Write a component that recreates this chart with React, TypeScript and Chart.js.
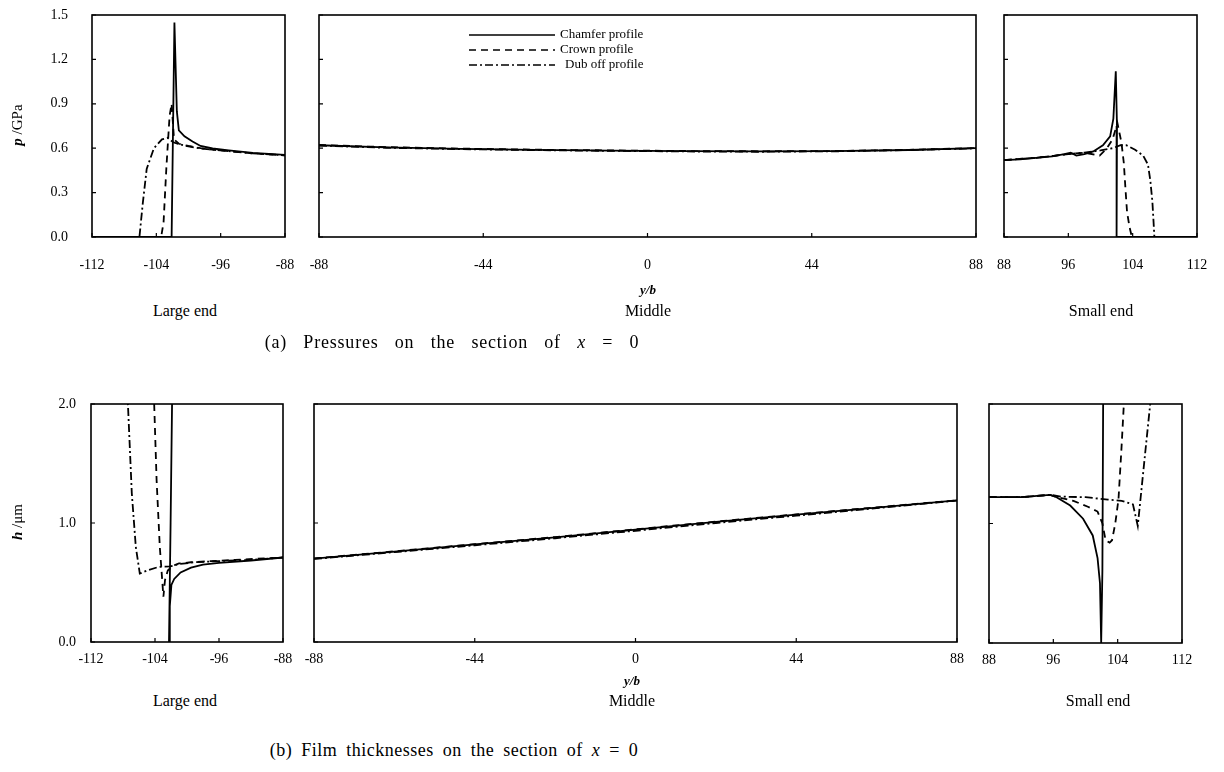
import React, { useEffect, useRef } from "react";
import { Chart, registerables } from "chart.js";

Chart.register(...registerables);

// ---------------- data ----------------
const seriesLabels = ["Chamfer profile", "Crown profile", "Dub off profile"];

const pTicks = [0, 0.3, 0.6, 0.9, 1.2, 1.5];
const hTicks = [0, 1, 2];
const largeEndTicks = [-112, -104, -96, -88];
const middleTicks = [-88, -44, 0, 44, 88];
const smallEndTicks = [88, 96, 104, 112];

// (a) pressure, large end
const pLargeChamfer: [number, number][] = [[-112, 0], [-102.1, 0], [-101.75, 1.45], [-101.45, 0.85], [-101.2, 0.72], [-100.5, 0.68], [-99.5, 0.645], [-98.5, 0.615], [-97, 0.598], [-95, 0.585], [-92, 0.568], [-88, 0.555]];
const pLargeCrown: [number, number][] = [[-112, 0], [-103.4, 0], [-103.1, 0.1], [-102.75, 0.47], [-102.35, 0.82], [-102.1, 0.9], [-101.8, 0.66], [-101.2, 0.63], [-100, 0.615], [-98.5, 0.6], [-97, 0.59], [-95, 0.58], [-92, 0.565], [-88, 0.552]];
const pLargeDub: [number, number][] = [[-112, 0], [-106.1, 0], [-105.7, 0.22], [-105.2, 0.46], [-104.3, 0.6], [-103.3, 0.66], [-102.6, 0.67], [-101.9, 0.64], [-101, 0.625], [-100, 0.612], [-98.5, 0.598], [-97, 0.59], [-95, 0.58], [-92, 0.565], [-88, 0.552]];

// (a) pressure, middle
const pMidChamfer: [number, number][] = [[-88, 0.62], [-70, 0.605], [-50, 0.596], [-30, 0.589], [-10, 0.584], [10, 0.58], [30, 0.578], [50, 0.58], [70, 0.588], [88, 0.6]];
const pMidCrown: [number, number][] = [[-88, 0.622], [-70, 0.607], [-50, 0.597], [-30, 0.59], [-10, 0.585], [10, 0.581], [30, 0.579], [50, 0.581], [70, 0.589], [88, 0.601]];
const pMidDub: [number, number][] = [[-88, 0.618], [-70, 0.603], [-50, 0.594], [-30, 0.587], [-10, 0.582], [10, 0.578], [30, 0.576], [50, 0.579], [70, 0.587], [88, 0.599]];

// (a) pressure, small end
const pSmallChamfer: [number, number][] = [[88, 0.52], [90, 0.525], [92, 0.535], [94, 0.545], [95.5, 0.56], [96.3, 0.57], [97, 0.55], [98, 0.56], [99.1, 0.578], [100.3, 0.62], [101.2, 0.68], [101.6, 0.8], [101.9, 1.12], [102.05, 0.75], [102.0, 0.3], [102.0, 0], [112, 0]];
const pSmallCrown: [number, number][] = [[88, 0.52], [92, 0.535], [96, 0.56], [98, 0.57], [99.9, 0.55], [100.8, 0.6], [101.5, 0.66], [102.1, 0.77], [102.6, 0.64], [102.9, 0.5], [103.1, 0.33], [103.3, 0.17], [103.6, 0.07], [103.9, 0], [112, 0]];
const pSmallDub: [number, number][] = [[88, 0.52], [92, 0.535], [96, 0.56], [98, 0.57], [100, 0.585], [101.5, 0.6], [102.5, 0.62], [103.2, 0.62], [104.3, 0.59], [105.3, 0.55], [105.9, 0.49], [106.2, 0.38], [106.45, 0.24], [106.6, 0.1], [106.7, 0], [112, 0]];

// (b) film thickness, large end
const hLargeChamfer: [number, number][] = [[-101.85, 2.1], [-102.05, 1.0], [-102.25, 0.0], [-102.15, 0.3], [-101.95, 0.48], [-101.6, 0.53], [-100.8, 0.585], [-99.5, 0.625], [-98, 0.65], [-96, 0.665], [-92, 0.685], [-88, 0.71]];
const hLargeCrown: [number, number][] = [[-104.15, 2.1], [-103.8, 1.36], [-103.4, 0.8], [-103.1, 0.52], [-102.95, 0.38], [-102.75, 0.52], [-102.4, 0.6], [-101.8, 0.64], [-101, 0.66], [-99.5, 0.67], [-97, 0.68], [-94, 0.69], [-88, 0.71]];
const hLargeDub: [number, number][] = [[-107.45, 2.1], [-106.9, 1.25], [-106.4, 0.8], [-105.9, 0.575], [-105, 0.6], [-103.6, 0.63], [-102.1, 0.635], [-101, 0.655], [-99, 0.67], [-96, 0.68], [-92, 0.69], [-88, 0.71]];

// (b) film thickness, middle
const hMidChamfer: [number, number][] = [[-88, 0.7], [-66, 0.76], [-44, 0.82], [-22, 0.88], [0, 0.945], [22, 1.01], [44, 1.07], [66, 1.13], [88, 1.19]];
const hMidCrown: [number, number][] = [[-88, 0.702], [-66, 0.762], [-44, 0.822], [-22, 0.882], [0, 0.947], [22, 1.012], [44, 1.072], [66, 1.132], [88, 1.19]];
const hMidDub: [number, number][] = [[-88, 0.698], [-66, 0.755], [-44, 0.813], [-22, 0.872], [0, 0.935], [22, 1.0], [44, 1.062], [66, 1.125], [88, 1.188]];

// (b) film thickness, small end
const hSmallChamfer: [number, number][] = [[88, 1.22], [92, 1.22], [95.6, 1.24], [96.4, 1.22], [98.1, 1.15], [99.7, 1.04], [100.9, 0.9], [101.5, 0.71], [101.8, 0.5], [101.95, 0], [102.1, 0.6], [102.2, 2.1]];
const hSmallCrown: [number, number][] = [[88, 1.22], [92, 1.22], [95.6, 1.24], [96.5, 1.22], [98.5, 1.19], [100.3, 1.14], [101.5, 1.1], [102.1, 1.0], [102.5, 0.86], [103.0, 0.84], [103.3, 0.86], [103.7, 1.0], [104.1, 1.2], [104.45, 1.6], [104.85, 2.1]];
const hSmallDub: [number, number][] = [[88, 1.22], [92, 1.22], [95.6, 1.24], [97, 1.225], [100, 1.22], [102.8, 1.2], [104.5, 1.19], [105.9, 1.16], [106.5, 0.98], [107.3, 1.51], [108.2, 2.1]];

// ---------------- styles ----------------
const FONT = "'Liberation Serif', 'Times New Roman', serif";
const dashes: number[][] = [[], [7, 5], [8, 3, 2, 3]];

type Panel = {
  area: { left: number; top: number; right: number; bottom: number };
  xMin: number; xMax: number; xTicks: number[];
  yMin: number; yMax: number; yTicks: number[];
  showY: boolean; yLabelPad: number; xLabelPad: number;
  series: [number, number][][];
  legend?: boolean;
};

const panels: Panel[] = [
  { area: { left: 92, top: 15, right: 285, bottom: 237 }, xMin: -112, xMax: -88, xTicks: largeEndTicks, yMin: 0, yMax: 1.5, yTicks: pTicks, showY: true, yLabelPad: 24, xLabelPad: 20, series: [pLargeChamfer, pLargeCrown, pLargeDub] },
  { area: { left: 319, top: 15, right: 976, bottom: 237 }, xMin: -88, xMax: 88, xTicks: middleTicks, yMin: 0, yMax: 1.5, yTicks: pTicks, showY: false, yLabelPad: 0, xLabelPad: 20, series: [pMidChamfer, pMidCrown, pMidDub], legend: true },
  { area: { left: 1004, top: 15, right: 1197, bottom: 237 }, xMin: 88, xMax: 112, xTicks: smallEndTicks, yMin: 0, yMax: 1.5, yTicks: pTicks, showY: false, yLabelPad: 0, xLabelPad: 20, series: [pSmallChamfer, pSmallCrown, pSmallDub] },
  { area: { left: 91, top: 404, right: 283, bottom: 642 }, xMin: -112, xMax: -88, xTicks: largeEndTicks, yMin: 0, yMax: 2, yTicks: hTicks, showY: true, yLabelPad: 15, xLabelPad: 9, series: [hLargeChamfer, hLargeCrown, hLargeDub] },
  { area: { left: 314, top: 404, right: 957, bottom: 642 }, xMin: -88, xMax: 88, xTicks: middleTicks, yMin: 0, yMax: 2, yTicks: hTicks, showY: false, yLabelPad: 0, xLabelPad: 9, series: [hMidChamfer, hMidCrown, hMidDub] },
  { area: { left: 989, top: 404, right: 1182, bottom: 643 }, xMin: 88, xMax: 112, xTicks: smallEndTicks, yMin: 0, yMax: 2, yTicks: hTicks, showY: false, yLabelPad: 0, xLabelPad: 9, series: [hSmallChamfer, hSmallCrown, hSmallDub] },
];

const PAD = 50;
const X_AXIS_H = 45;
const Y_AXIS_SMALL = 4;

const frameTicksPlugin = {
  id: "frameTicks",
  afterDraw(chart: any) {
    const { ctx, chartArea: a, scales } = chart;
    ctx.save();
    ctx.strokeStyle = "#000";
    ctx.lineWidth = 1.6;
    ctx.strokeRect(a.left, a.top, a.right - a.left, a.bottom - a.top);
    ctx.lineWidth = 1.2;
    ctx.beginPath();
    const xs = scales.x;
    const ys = scales.y;
    xs.ticks.forEach((t: any) => {
      const px = xs.getPixelForValue(t.value);
      ctx.moveTo(px, a.bottom);
      ctx.lineTo(px, a.bottom - 4);
    });
    ys.ticks.forEach((t: any) => {
      const py = ys.getPixelForValue(t.value);
      ctx.moveTo(a.left, py);
      ctx.lineTo(a.left + 4, py);
    });
    ctx.stroke();
    ctx.restore();
  },
};

const inlineLegendPlugin = {
  id: "inlineLegend",
  afterDraw(chart: any) {
    const opts = chart.options.plugins.inlineLegend;
    if (!opts || !opts.show) return;
    const { ctx, chartArea: a } = chart;
    ctx.save();
    chart.data.datasets.forEach((ds: any, i: number) => {
      const y = a.top + 20 + i * 15;
      ctx.strokeStyle = "#000";
      ctx.lineWidth = 1.3;
      ctx.setLineDash(ds.borderDash || []);
      ctx.beginPath();
      ctx.moveTo(a.left + 150, y);
      ctx.lineTo(a.left + 236, y);
      ctx.stroke();
      ctx.setLineDash([]);
      ctx.fillStyle = "#000";
      ctx.font = `13px ${FONT}`;
      ctx.textBaseline = "middle";
      ctx.textAlign = "left";
      ctx.fillText(ds.label, a.left + 241 + (i === 2 ? 5 : 0), y);
    });
    ctx.restore();
  },
};

function PanelChart({ p }: { p: Panel }) {
  const ref = useRef<HTMLCanvasElement | null>(null);
  const yW = p.showY ? p.area.left : Y_AXIS_SMALL;
  const padLeft = p.showY ? 0 : PAD;
  const canvasLeft = p.area.left - yW - padLeft;
  const canvasTop = p.area.top - PAD;
  const width = padLeft + yW + (p.area.right - p.area.left) + PAD;
  const height = PAD + (p.area.bottom - p.area.top) + X_AXIS_H;

  useEffect(() => {
    if (!ref.current) return;
    const chart = new Chart(ref.current, {
      type: "scatter",
      data: {
        datasets: p.series.map((s, i) => ({
          label: seriesLabels[i],
          data: s.map(([x, y]) => ({ x, y })),
          showLine: true,
          borderColor: "#000",
          backgroundColor: "#000",
          borderWidth: 1.8,
          borderDash: dashes[i],
          pointRadius: 0,
          fill: false,
          tension: 0,
        })),
      },
      options: {
        animation: false,
        responsive: false,
        maintainAspectRatio: false,
        events: [],
        layout: { padding: { left: padLeft, right: PAD, top: PAD, bottom: 0 } },
        plugins: {
          legend: { display: false },
          tooltip: { enabled: false },
          inlineLegend: { show: !!p.legend },
        } as any,
        scales: {
          x: {
            type: "linear",
            min: p.xMin,
            max: p.xMax,
            afterBuildTicks: (s: any) => {
              s.ticks = p.xTicks.map((v) => ({ value: v }));
            },
            afterFit: (s: any) => {
              s.height = X_AXIS_H;
            },
            grid: { display: false, drawTicks: false },
            border: { display: false },
            ticks: {
              color: "#000",
              font: { family: FONT, size: 14 },
              padding: p.xLabelPad,
              maxRotation: 0,
              autoSkip: false,
              callback: (v: any) => String(v),
            },
          },
          y: {
            type: "linear",
            min: p.yMin,
            max: p.yMax,
            afterBuildTicks: (s: any) => {
              s.ticks = p.yTicks.map((v) => ({ value: v }));
            },
            afterFit: (s: any) => {
              s.width = yW;
            },
            grid: { display: false, drawTicks: false },
            border: { display: false },
            ticks: {
              display: p.showY,
              color: "#000",
              font: { family: FONT, size: 14 },
              padding: p.yLabelPad,
              callback: (v: any) => Number(v).toFixed(1),
            },
          },
        },
      } as any,
      plugins: [frameTicksPlugin, inlineLegendPlugin],
    });
    return () => chart.destroy();
  }, []);

  return (
    <canvas
      ref={ref}
      width={width}
      height={height}
      style={{ position: "absolute", left: canvasLeft, top: canvasTop, width, height }}
    />
  );
}

function Label({ x, y, size, children, rotate, style }: any) {
  return (
    <div
      style={{
        position: "absolute",
        left: x,
        top: y,
        transform: `translate(-50%, -50%)${rotate ? " rotate(-90deg)" : ""}`,
        whiteSpace: "nowrap",
        fontFamily: FONT,
        fontSize: size,
        lineHeight: 1,
        color: "#000",
        ...style,
      }}
    >
      {children}
    </div>
  );
}

export default function App() {
  return (
    <div style={{ position: "absolute", left: 0, top: 0, width: 1224, height: 772, background: "#fff", overflow: "hidden" }}>
      {panels.map((p, i) => (
        <PanelChart key={i} p={p} />
      ))}
      <Label x={17} y={125} size={15} rotate>
        <b><i>p</i></b> /GPa
      </Label>
      <Label x={17} y={522} size={15} rotate>
        <b><i>h</i></b> /μm
      </Label>
      <Label x={648} y={289} size={13}>
        <b><i>y/b</i></b>
      </Label>
      <Label x={632} y={680} size={13}>
        <b><i>y/b</i></b>
      </Label>
      <Label x={185} y={311} size={16}>Large end</Label>
      <Label x={648} y={311} size={16}>Middle</Label>
      <Label x={1101} y={311} size={16}>Small end</Label>
      <Label x={185} y={701} size={16}>Large end</Label>
      <Label x={632} y={701} size={16}>Middle</Label>
      <Label x={1098} y={701} size={16}>Small end</Label>
      <Label x={452} y={342} size={18} style={{ wordSpacing: 11, letterSpacing: 0.8 }}>
        (a) Pressures on the section of <i>x</i> = 0
      </Label>
      <Label x={454} y={750} size={18} style={{ wordSpacing: 4, letterSpacing: 0.5 }}>
        (b) Film thicknesses on the section of <i>x</i> = 0
      </Label>
    </div>
  );
}
